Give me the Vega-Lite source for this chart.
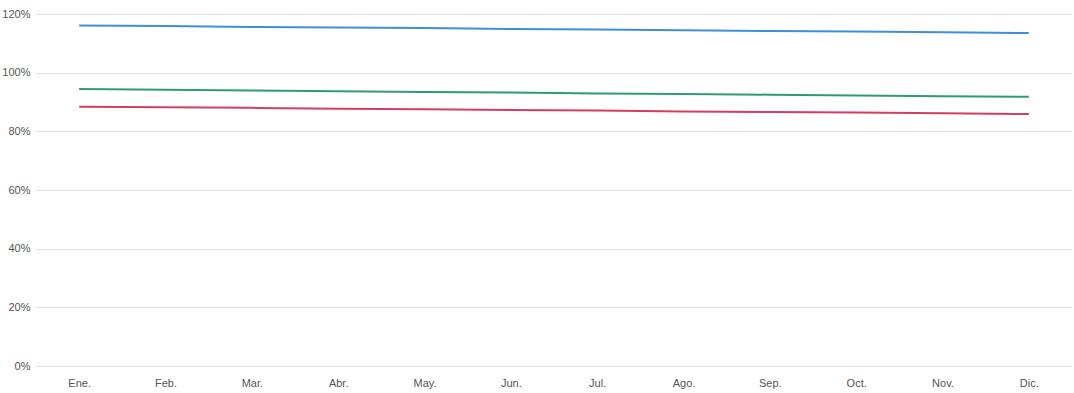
{
  "$schema": "https://vega.github.io/schema/vega-lite/v6.json",
  "width": 1036,
  "height": 352,
  "autosize": {"type": "none"},
  "padding": {"left": 36, "top": 14, "right": 2, "bottom": 27},
  "background": "white",
  "config": {"view": {"stroke": null}, "font": "Liberation Sans"},
  "data": {"values": [
    {"mes": "Ene.", "serie": "A", "v": 1.161}, {"mes": "Feb.", "serie": "A", "v": 1.159}, {"mes": "Mar.", "serie": "A", "v": 1.156}, {"mes": "Abr.", "serie": "A", "v": 1.154}, {"mes": "May.", "serie": "A", "v": 1.152}, {"mes": "Jun.", "serie": "A", "v": 1.149}, {"mes": "Jul.", "serie": "A", "v": 1.147}, {"mes": "Ago.", "serie": "A", "v": 1.145}, {"mes": "Sep.", "serie": "A", "v": 1.142}, {"mes": "Oct.", "serie": "A", "v": 1.140}, {"mes": "Nov.", "serie": "A", "v": 1.138}, {"mes": "Dic.", "serie": "A", "v": 1.135},
    {"mes": "Ene.", "serie": "B", "v": 0.944}, {"mes": "Feb.", "serie": "B", "v": 0.942}, {"mes": "Mar.", "serie": "B", "v": 0.939}, {"mes": "Abr.", "serie": "B", "v": 0.937}, {"mes": "May.", "serie": "B", "v": 0.934}, {"mes": "Jun.", "serie": "B", "v": 0.932}, {"mes": "Jul.", "serie": "B", "v": 0.929}, {"mes": "Ago.", "serie": "B", "v": 0.927}, {"mes": "Sep.", "serie": "B", "v": 0.925}, {"mes": "Oct.", "serie": "B", "v": 0.922}, {"mes": "Nov.", "serie": "B", "v": 0.920}, {"mes": "Dic.", "serie": "B", "v": 0.918},
    {"mes": "Ene.", "serie": "C", "v": 0.884}, {"mes": "Feb.", "serie": "C", "v": 0.882}, {"mes": "Mar.", "serie": "C", "v": 0.880}, {"mes": "Abr.", "serie": "C", "v": 0.877}, {"mes": "May.", "serie": "C", "v": 0.875}, {"mes": "Jun.", "serie": "C", "v": 0.873}, {"mes": "Jul.", "serie": "C", "v": 0.871}, {"mes": "Ago.", "serie": "C", "v": 0.868}, {"mes": "Sep.", "serie": "C", "v": 0.866}, {"mes": "Oct.", "serie": "C", "v": 0.864}, {"mes": "Nov.", "serie": "C", "v": 0.862}, {"mes": "Dic.", "serie": "C", "v": 0.859}
  ]},
  "mark": {"type": "line", "strokeWidth": 2},
  "encoding": {
    "x": {
      "field": "mes", "type": "ordinal", "sort": null,
      "scale": {"type": "point", "padding": 0.5},
      "axis": {"title": null, "labelAngle": 0, "ticks": false, "domain": false, "grid": false, "labelFontSize": 11, "labelColor": "#555555", "labelPadding": 11, "labelFont": "Liberation Sans"}
    },
    "y": {
      "field": "v", "type": "quantitative",
      "scale": {"domain": [0, 1.2], "nice": false},
      "axis": {"title": null, "format": ".0%", "values": [0, 0.2, 0.4, 0.6, 0.8, 1.0, 1.2], "ticks": false, "domain": false, "grid": true, "gridColor": "#c4c4c4", "gridDash": [1, 1], "gridWidth": 1, "labelFontSize": 11, "labelColor": "#555555", "labelPadding": 6, "labelFont": "Liberation Sans"}
    },
    "color": {
      "field": "serie", "type": "nominal", "legend": null,
      "scale": {"domain": ["A", "B", "C"], "range": ["#3d8fd8", "#2f9b72", "#d63c63"]}
    }
  }
}
